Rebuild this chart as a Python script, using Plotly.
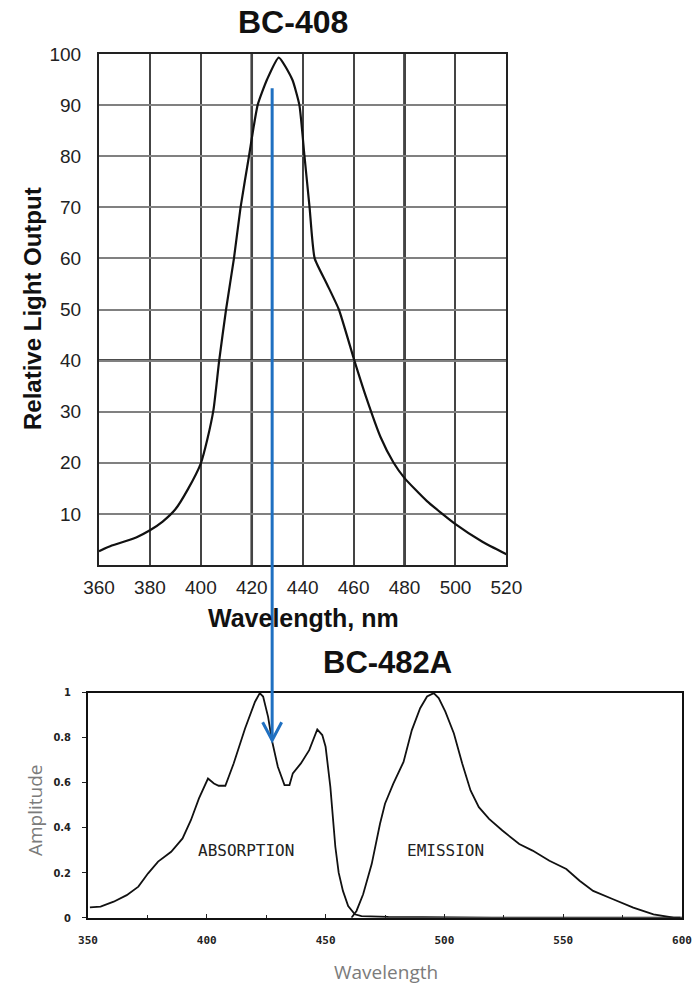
import plotly.graph_objects as go

# ---------------- data ----------------
# BC-408 emission (relative light output, %)
bc408_nm = [360, 365, 370, 375, 380, 385, 390, 395, 400, 402.5, 405, 407.2, 409.9,
            413.0, 415.6, 418.9, 422.3, 426.0, 430.6, 435.9, 438.7, 440.7, 442.7,
            444.7, 449.5, 454.2, 460.3, 464.8, 470.6, 475.7, 480, 488.8, 500, 510.4, 520]
bc408_val = [2.7, 3.8, 4.6, 5.5, 6.8, 8.5, 10.9, 14.9, 19.9, 24.5, 30.5, 40, 50,
             60, 70, 80, 90, 95, 99.3, 95, 90, 80, 70,
             60, 55, 50, 40, 33, 25, 20, 17, 12.5, 8, 4.6, 2.1]

# BC-482A absorption
abs_nm = [350.8, 355.3, 360.8, 366.3, 371.2, 375.3, 379.5, 385, 389.8, 393.3, 396.7,
          400.5, 403, 405, 407.8, 411.3, 416.1, 420.3, 422.3, 423.7, 425.8, 427.4,
          429.9, 432.7, 434.8, 436.2, 439.6, 443.1, 446.5, 448.6, 450, 452, 454.1,
          455.5, 457.3, 459.5, 462.3, 465.1, 476.4, 520, 600]
abs_val = [0.046, 0.049, 0.071, 0.10, 0.138, 0.197, 0.249, 0.293, 0.352, 0.433, 0.53,
           0.618, 0.596, 0.586, 0.586, 0.685, 0.84, 0.959, 0.997, 0.982, 0.892, 0.788,
           0.67, 0.589, 0.589, 0.641, 0.685, 0.744, 0.836, 0.811, 0.759, 0.581, 0.315,
           0.20, 0.119, 0.052, 0.015, 0.007, 0.003, 0.0, 0.0]

# BC-482A emission
emi_nm = [460.9, 463, 465.8, 469.4, 472.9, 475, 478.5, 482.8, 486.3, 489.8, 492.7,
          495.5, 497.6, 500.4, 504, 507.5, 511, 514.5, 518.8, 524.4, 531.5, 537.1,
          544.2, 551.3, 556.9, 562.6, 571, 579.5, 588, 596.5, 599.3]
emi_val = [0.0, 0.03, 0.104, 0.238, 0.417, 0.506, 0.595, 0.692, 0.833, 0.93, 0.982,
           0.997, 0.975, 0.915, 0.818, 0.685, 0.565, 0.491, 0.439, 0.387, 0.327, 0.298,
           0.253, 0.216, 0.164, 0.119, 0.082, 0.045, 0.015, 0.0, 0.0]

top_xticks = [360, 380, 400, 420, 440, 460, 480, 500, 520]
top_yticks = [10, 20, 30, 40, 50, 60, 70, 80, 90, 100]
bot_xticks = [350, 400, 450, 500, 550, 600]
bot_xminor = [375, 425, 475, 525, 575]
bot_yticks = [0, 0.2, 0.4, 0.6, 0.8, 1.0]
bot_yticktext = ["0", "0.2", "0.4", "0.6", "0.8", "1"]

arrow_nm = 428          # wavelength marked by the blue arrow
arrow_top_val = 93.3    # start, in BC-408 units
arrow_tip_val = 0.788   # end, in BC-482A amplitude units

# ---------------- layout geometry ----------------
W, H = 699, 984
top_xdom = [99 / W, 506.4 / W]
top_ydom = [1 - 565 / H, 1 - 54 / H]
bot_xdom = [88 / W, 682 / W]
bot_ydom = [1 - 917.7 / H, 1 - 692.5 / H]

ARIAL = "Liberation Sans, Arial, sans-serif"

fig = go.Figure()

fig.add_trace(go.Scatter(x=bc408_nm, y=bc408_val, mode="lines",
                         line=dict(color="#111111", width=2.2, shape="spline", smoothing=0.5),
                         xaxis="x", yaxis="y", showlegend=False, hoverinfo="skip"))
fig.add_trace(go.Scatter(x=abs_nm, y=abs_val, mode="lines",
                         line=dict(color="#111111", width=1.8),
                         xaxis="x2", yaxis="y2", showlegend=False, hoverinfo="skip"))
fig.add_trace(go.Scatter(x=emi_nm, y=emi_val, mode="lines",
                         line=dict(color="#111111", width=1.8),
                         xaxis="x2", yaxis="y2", showlegend=False, hoverinfo="skip"))

fig.update_layout(
    template="none",
    width=W, height=H,
    margin=dict(l=0, r=0, t=0, b=0, pad=0, autoexpand=False),
    paper_bgcolor="white", plot_bgcolor="white",
    showlegend=False,
    xaxis=dict(domain=top_xdom, anchor="y", range=[360, 520], tickvals=top_xticks,
               automargin=False,
               showgrid=True, gridcolor="#444444", gridwidth=1.5, zeroline=False,
               showline=True, linecolor="#222222", linewidth=2, mirror=True,
               ticks="outside", ticklen=4, tickcolor="rgba(0,0,0,0)",
               tickfont=dict(family=ARIAL, size=19, color="#222222")),
    yaxis=dict(domain=top_ydom, anchor="x", range=[0, 100], tickvals=top_yticks,
               automargin=False,
               showgrid=True, gridcolor="#808080", gridwidth=1.5, zeroline=False,
               showline=True, linecolor="#222222", linewidth=2, mirror=True,
               ticks="outside", ticklen=12, tickcolor="rgba(0,0,0,0)",
               tickfont=dict(family=ARIAL, size=19, color="#222222")),
    xaxis2=dict(domain=bot_xdom, anchor="y2", range=[350, 600], tickvals=bot_xticks,
                automargin=False,
                showgrid=False, zeroline=False,
                showline=True, linecolor="#111111", linewidth=1.6, mirror=True,
                ticks="inside", ticklen=4, tickcolor="#222222", tickwidth=1.2,
                minor=dict(tickvals=bot_xminor, ticks="inside", ticklen=3,
                           tickcolor="#222222", tickwidth=1.2),
                ticklabelstandoff=11,
                tickfont=dict(family="DejaVu Sans Mono, monospace", size=11,
                              color="#222222", weight="bold")),
    yaxis2=dict(domain=bot_ydom, anchor="x2", range=[0, 1], tickvals=bot_yticks,
                ticktext=bot_yticktext, automargin=False,
                showgrid=False, zeroline=False,
                showline=True, linecolor="#111111", linewidth=1.6, mirror=True,
                ticks="outside", ticklen=4, tickcolor="#222222", tickwidth=1.2,
                ticklabelstandoff=9,
                tickfont=dict(family="Liberation Sans Narrow, DejaVu Sans Condensed, sans-serif",
                              size=11, color="#222222", weight="bold")),
)

# heavier grid lines in the BC-408 chart
for xv in [420, 480]:
    fig.add_shape(type="line", xref="x", yref="y domain", x0=xv, x1=xv, y0=0, y1=1,
                  line=dict(color="#111111", width=2.5), layer="below")
fig.add_shape(type="line", xref="x domain", yref="y", x0=0, x1=1, y0=40, y1=40,
              line=dict(color="#111111", width=2.5), layer="below")

# blue arrow linking the two charts
y_top_paper = top_ydom[0] + arrow_top_val / 100 * (top_ydom[1] - top_ydom[0])
y_tip_paper = bot_ydom[0] + arrow_tip_val * (bot_ydom[1] - bot_ydom[0])
BLUE = "#1F70C1"
fig.add_shape(type="line", xref="x", yref="paper", x0=arrow_nm, x1=arrow_nm,
              y0=y_top_paper, y1=y_tip_paper, line=dict(color=BLUE, width=3), layer="above")
fig.add_shape(type="path", xref="x", yref="paper", xsizemode="pixel", ysizemode="pixel",
              xanchor=arrow_nm, yanchor=y_tip_paper,
              path="M -9.5,18 L 0,0 L 9.5,18",
              line=dict(color=BLUE, width=3), layer="above")

# texts
annos = [
    dict(text="<b>BC-408</b>", x=293 / W, y=1 - 22 / H, font=dict(family=ARIAL, size=32, color="#111111")),
    dict(text="<b>Relative Light Output</b>", x=33 / W, y=1 - 309 / H, textangle=-90,
         font=dict(family=ARIAL, size=24, color="#111111")),
    dict(text="<b>Wavelength, nm</b>", x=303 / W, y=1 - 618 / H,
         font=dict(family=ARIAL, size=25, color="#111111")),
    dict(text="<b>BC-482A</b>", x=387 / W, y=1 - 662.5 / H, font=dict(family=ARIAL, size=31, color="#111111")),
    dict(text="Amplitude", x=35 / W, y=1 - 810 / H, textangle=-90,
         font=dict(family="Open Sans, sans-serif", size=19, color="#7b7b7b")),
    dict(text="Wavelength", x=385.5 / W, y=1 - 972 / H,
         font=dict(family="Open Sans, sans-serif", size=19, color="#7b7b7b")),
]
for a in annos:
    fig.add_annotation(xref="paper", yref="paper", showarrow=False,
                       xanchor="center", yanchor="middle", **a)

fig.add_annotation(text="ABSORPTION", x=416.5, y=0.30, xref="x2", yref="y2", showarrow=False,
                   font=dict(family="DejaVu Sans Mono, monospace", size=16, color="#222222"))
fig.add_annotation(text="EMISSION", x=500.4, y=0.30, xref="x2", yref="y2", showarrow=False,
                   font=dict(family="DejaVu Sans Mono, monospace", size=16, color="#222222"))

fig.write_html(
    "out.html",
    config={"displayModeBar": False},
    post_script="document.body.style.margin='0px';document.body.style.overflow='hidden';",
)
